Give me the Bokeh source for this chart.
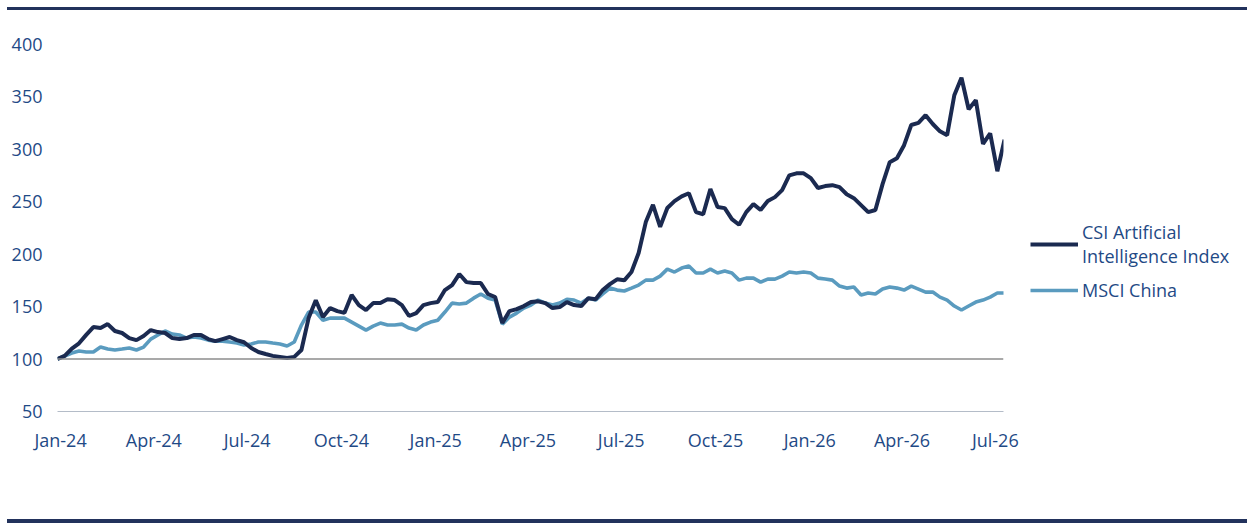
import pandas as pd

import bokeh.layouts
import bokeh.models
import bokeh.plotting
from bokeh.embed import file_html
from bokeh.resources import INLINE

# weekly closes, rebased to 100 at end of 2023
dates = pd.date_range("2023-12-29", periods=133, freq="W-FRI")

csi_ai = [
    100, 103, 110, 115, 123, 130.5, 129.5, 133.3, 126.7, 124.8,
    120, 118, 122, 127.6, 125.7, 124.8, 120, 119, 120, 122.9,
    123, 119, 117, 119, 121, 118, 116, 110.5, 106.7, 104.8,
    103, 102, 101, 102, 108.6, 139, 156, 140, 148.6, 145.7,
    144, 161, 151.4, 146.7, 153.3, 153.3, 157, 156.2, 151.4, 141,
    143.8, 151.4, 153.3, 154.3, 165.7, 170.5, 181, 173.3, 172.4, 172.4,
    162, 159, 134.3, 145.7, 147.6, 150.5, 154.3, 155, 153.3, 148.6,
    149.5, 154.3, 151.4, 150.5, 158, 157, 165.7, 171.4, 176, 175,
    183, 201, 230.5, 247, 226, 244, 250.5, 255, 258, 240,
    238, 262, 244.8, 243.8, 233.3, 228, 240, 247.6, 242, 250.5,
    254.3, 261, 275, 277, 277, 272.4, 263, 264.8, 265.7, 263.8,
    257, 253.3, 246.7, 240, 242, 266.7, 287.6, 291.4, 303.8, 323,
    325, 332.4, 324, 317, 313.3, 351.4, 368, 338, 346.7, 305,
    315, 279, 309,
]

msci_china = [
    100, 102.9, 105.7, 107.6, 106.7, 106.7, 111.4, 109.5, 108.6, 109.5,
    110.5, 108.6, 111.4, 119, 122.9, 126.7, 123.8, 122.9, 120, 121,
    120, 118, 117, 117, 116.2, 115.2, 113.3, 114.3, 116.2, 116.2,
    115.2, 114.3, 112.4, 116.2, 132.4, 144.8, 144.8, 137, 139, 139,
    139, 135.2, 131.4, 127.6, 131.4, 134.3, 132.4, 132.4, 133.3, 129.5,
    127.6, 132.4, 135.2, 137, 144.8, 153.3, 152.4, 153.3, 158, 162,
    158, 156.2, 133.3, 140, 143.8, 148.6, 151.4, 156.2, 153.3, 151.4,
    153.3, 157, 156.2, 153.3, 158, 156.2, 162, 167.6, 165.7, 164.8,
    167.6, 170.5, 175.2, 175.2, 179, 185.7, 182.9, 186.7, 188.6, 182,
    182, 185.7, 182, 183.8, 182, 175.2, 177.1, 177.1, 173.3, 176.2,
    176.2, 179, 182.9, 182, 182.9, 182, 177.1, 176.2, 175.2, 169.5,
    167.6, 168.6, 161, 162.9, 161.9, 166.7, 168.6, 167.6, 165.7, 169.5,
    166.7, 163.8, 163.8, 159, 156.2, 150.5, 146.7, 150.5, 154.3, 156.2,
    159, 162.9, 162.9,
]

series_names = ["CSI Artificial\nIntelligence Index", "MSCI China"]
y_ticks = [50, 100, 150, 200, 250, 300, 350, 400]

FONT = "Open Sans"
TEXT = "#1f4a86"
NAVY = "#1b2a50"
STEEL = "#5a9bbf"
BAR = "#22325c"

source = bokeh.models.ColumnDataSource(data=dict(dt=dates, csi=csi_ai, msci=msci_china))

p = bokeh.plotting.figure(
    frame_width=946,
    frame_height=383,
    x_axis_type="datetime",
    x_range=(dates[0], dates[-1] - pd.Timedelta(days=1)),
    y_range=(50, 415),
    toolbar_location=None,
    tools="",
    output_backend="svg",
    min_border_left=57,
    min_border_right=0,
    min_border_top=18,
    min_border_bottom=108,
)
p.outline_line_color = None
p.grid.grid_line_color = None

p.add_layout(bokeh.models.Span(location=100, dimension="width", line_color="#8c8c8c", line_width=1.5))

r_msci = p.line("dt", "msci", source=source, line_color=STEEL, line_width=3.6)
r_csi = p.line("dt", "csi", source=source, line_color=NAVY, line_width=4)

p.xaxis.ticker = bokeh.models.MonthsTicker(months=[0, 3, 6, 9])
p.xaxis.formatter = bokeh.models.DatetimeTickFormatter(months="%b-%y", days="%b-%y")
p.yaxis.ticker = y_ticks

for ax in (p.xaxis, p.yaxis):
    ax.major_tick_line_color = None
    ax.minor_tick_line_color = None
    ax.major_label_text_font = FONT
    ax.major_label_text_font_size = "18px"
    ax.major_label_text_color = TEXT
p.yaxis.axis_line_color = None
p.yaxis.major_label_standoff = 9
p.xaxis.axis_line_color = "#b4bcc8"
p.xaxis.major_label_standoff = 10

legend = bokeh.models.Legend(
    items=[
        bokeh.models.LegendItem(label=series_names[0], renderers=[r_csi]),
        bokeh.models.LegendItem(label=series_names[1], renderers=[r_msci]),
    ],
    location=(27, 109),
    glyph_width=48,
    label_standoff=4,
    padding=0,
    margin=0,
    spacing=10,
    border_line_color=None,
    background_fill_alpha=0,
    label_text_font=FONT,
    label_text_font_size="18px",
    label_text_color=TEXT,
)
p.add_layout(legend, "right")

top_bar = bokeh.models.Div(text="", width=1240, height=3, margin=(7, 0, 0, 7),
                           styles={"background-color": BAR})
bottom_bar = bokeh.models.Div(text="", width=1240, height=4, margin=(0, 0, 0, 7),
                              styles={"background-color": BAR})

page = bokeh.layouts.column(top_bar, p, bottom_bar, spacing=0)

open("out.html", "w").write(file_html(page, INLINE))
